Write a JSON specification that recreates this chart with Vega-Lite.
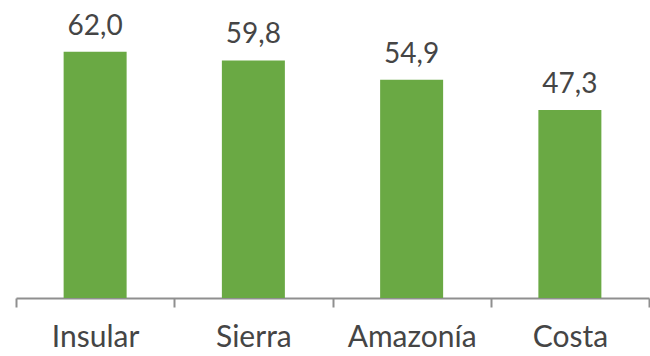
{
  "$schema": "https://vega.github.io/schema/vega-lite/v6.json",
  "width": 633,
  "height": 298,
  "autosize": {"type": "none"},
  "padding": {"left": 16, "top": 0, "right": 1, "bottom": 58},
  "background": "white",
  "config": {
    "locale": {"number": {"decimal": ",", "thousands": ".", "grouping": [3], "currency": ["", " €"]}},
    "view": {"stroke": null}
  },
  "data": {"values": [
    {"region": "Insular", "value": 62.0},
    {"region": "Sierra", "value": 59.8},
    {"region": "Amazonía", "value": 54.9},
    {"region": "Costa", "value": 47.3}
  ]},
  "encoding": {
    "x": {"field": "region", "type": "nominal", "sort": null,
      "scale": {"paddingInner": 0, "paddingOuter": 0},
      "axis": {"title": null, "labelAngle": 0, "tickBand": "extent", "domainColor": "#8f8f8f", "tickColor": "#8f8f8f", "tickSize": 9, "domainWidth": 2, "tickWidth": 2, "labelFont": "Lato", "labelFontSize": 30, "labelColor": "#454545", "labelPadding": 15}},
    "y": {"field": "value", "type": "quantitative", "scale": {"domain": [0, 75]}, "axis": null}
  },
  "layer": [
    {"mark": {"type": "bar", "size": 63, "color": "#6aa944"}},
    {"mark": {"type": "text", "font": "Lato", "fontSize": 28, "color": "#454545", "baseline": "alphabetic", "dy": -17},
     "encoding": {"text": {"field": "value", "type": "quantitative", "format": ".1f"}}}
  ]
}
